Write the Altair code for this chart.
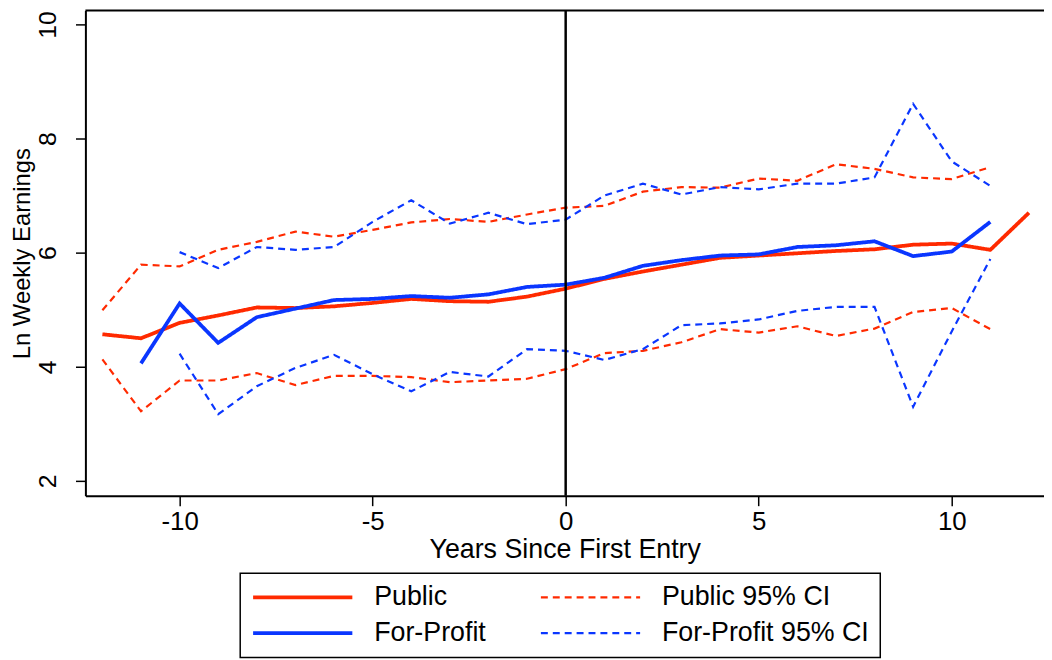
import altair as alt
import pandas as pd

# ---------------- data ----------------
public_years = list(range(-12, 13))
public_mean = [4.57, 4.50, 4.77, 4.90, 5.04, 5.03, 5.06, 5.12, 5.19, 5.15, 5.14, 5.23,
               5.37, 5.54, 5.67, 5.79, 5.91, 5.95, 5.99, 6.03, 6.06, 6.14, 6.16, 6.05, 6.70]

public_ci_years = list(range(-12, 12))
public_ci_upper = [4.99, 5.79, 5.76, 6.05, 6.19, 6.37, 6.28, 6.40, 6.53, 6.59, 6.54, 6.67,
                   6.79, 6.82, 7.07, 7.15, 7.14, 7.30, 7.26, 7.55, 7.47, 7.32, 7.29, 7.50]
public_ci_lower = [4.13, 3.22, 3.76, 3.76, 3.89, 3.68, 3.84, 3.84, 3.82, 3.73, 3.76, 3.79,
                   3.96, 4.24, 4.28, 4.43, 4.66, 4.60, 4.71, 4.54, 4.67, 4.96, 5.03, 4.66]

forprofit_years = list(range(-11, 12))
forprofit_mean = [4.06, 5.11, 4.42, 4.87, 5.02, 5.17, 5.19, 5.24, 5.21, 5.27, 5.40, 5.44,
                  5.56, 5.77, 5.87, 5.95, 5.97, 6.10, 6.13, 6.20, 5.94, 6.02, 6.54]

forprofit_ci_years = list(range(-10, 12))
forprofit_ci_upper = [6.01, 5.73, 6.10, 6.05, 6.10, 6.54, 6.92, 6.51, 6.70, 6.50, 6.58,
                      7.00, 7.21, 7.02, 7.15, 7.11, 7.21, 7.21, 7.32, 8.61, 7.60, 7.17]
forprofit_ci_lower = [4.23, 3.17, 3.66, 3.98, 4.21, 3.87, 3.57, 3.91, 3.83, 4.31, 4.28,
                      4.12, 4.31, 4.73, 4.76, 4.83, 4.98, 5.05, 5.05, 3.30, 4.62, 5.89]

# legend fills column by column: col 1 = solid lines, col 2 = CIs
series_order = ["Public", "For-Profit", "Public 95% CI", "For-Profit 95% CI"]
series_colors = ["#ff2a00", "#0a36ff", "#ff2a00", "#0a36ff"]
series_dash = [[1, 0], [1, 0], [7, 5], [7, 5]]
series_width = [3.8, 3.8, 2.2, 2.2]

x_ticks = [-10, -5, 0, 5, 10]
y_ticks = [2, 4, 6, 8, 10]
x_domain = [-12.44, 12.39]
y_domain = [1.74, 10.245]
entry_year = [0]

# ---------------- long table ----------------
rows = []
def add(series, line, years, vals):
    for yr, v in zip(years, vals):
        rows.append({"series": series, "line": line, "year": yr, "value": v})

add("Public", "pub", public_years, public_mean)
add("Public 95% CI", "pub_hi", public_ci_years, public_ci_upper)
add("Public 95% CI", "pub_lo", public_ci_years, public_ci_lower)
add("For-Profit", "fp", forprofit_years, forprofit_mean)
add("For-Profit 95% CI", "fp_hi", forprofit_ci_years, forprofit_ci_upper)
add("For-Profit 95% CI", "fp_lo", forprofit_ci_years, forprofit_ci_lower)
df = pd.DataFrame(rows)

FONT = "Liberation Sans"

X = alt.X("year:Q", title="Years Since First Entry",
          scale=alt.Scale(domain=x_domain, nice=False, zero=False),
          axis=alt.Axis(values=x_ticks, labelFontSize=26, labelPadding=3,
                        labelExpr="toString(datum.value)",
                        titleFontSize=27, titleY=62, titleBaseline="alphabetic"))
Y = alt.Y("value:Q", title="Ln Weekly Earnings",
          scale=alt.Scale(domain=y_domain, nice=False, zero=False),
          axis=alt.Axis(values=y_ticks, labelFontSize=25, labelAngle=270,
                        labelAlign="center", labelBaseline="bottom", labelPadding=15,
                        titleFontSize=24, titleAngle=270, titleX=-56, titleY=244.5,
                        titleAlign="center", titleBaseline="alphabetic"))

legend = alt.Legend(title=None, orient="none", legendX=156, legendY=567, columns=2,
                    symbolType="stroke", symbolSize=10000, clipHeight=27,
                    rowPadding=8, columnPadding=53, labelOffset=20,
                    labelFontSize=27, labelFont=FONT, labelColor="black", labelLimit=400,
                    padding=11, strokeColor="black", fillColor="white")

base = alt.Chart(df).encode(
    x=X, y=Y,
    color=alt.Color("series:N", scale=alt.Scale(domain=series_order, range=series_colors), legend=legend),
    strokeDash=alt.StrokeDash("series:N", scale=alt.Scale(domain=series_order, range=series_dash), legend=legend),
    strokeWidth=alt.StrokeWidth("series:N", scale=alt.Scale(type="ordinal", domain=series_order, range=series_width), legend=legend),
    detail="line:N",
)

ci = base.mark_line().transform_filter("indexof(datum.series, 'CI') >= 0")
pub = base.mark_line().transform_filter("datum.series == 'Public'")
fp = base.mark_line().transform_filter("datum.series == 'For-Profit'")

vline = alt.Chart(pd.DataFrame({"year": entry_year})).mark_rule(
    color="black", strokeWidth=2.5).encode(x=X)
top = alt.Chart(pd.DataFrame({"value": [y_domain[1]]})).mark_rule(
    color="black", strokeWidth=2).encode(y=Y)

chart = alt.layer(ci, pub, fp, vline, top).properties(
    width=966, height=489,
    autosize=alt.AutoSizeParams(type="none"),
    padding={"left": 78, "top": 0, "right": 0, "bottom": 163},
).configure_view(stroke=None).configure_axis(
    grid=False, domainColor="black", domainWidth=2, tickColor="black",
    tickWidth=1.5, tickSize=10, labelColor="black", titleColor="black",
    labelFont=FONT, titleFont=FONT, titleFontWeight="normal",
).configure_legend(strokeWidth=1.5)

chart.save("out.html", embed_options={"renderer": "svg", "actions": False})
